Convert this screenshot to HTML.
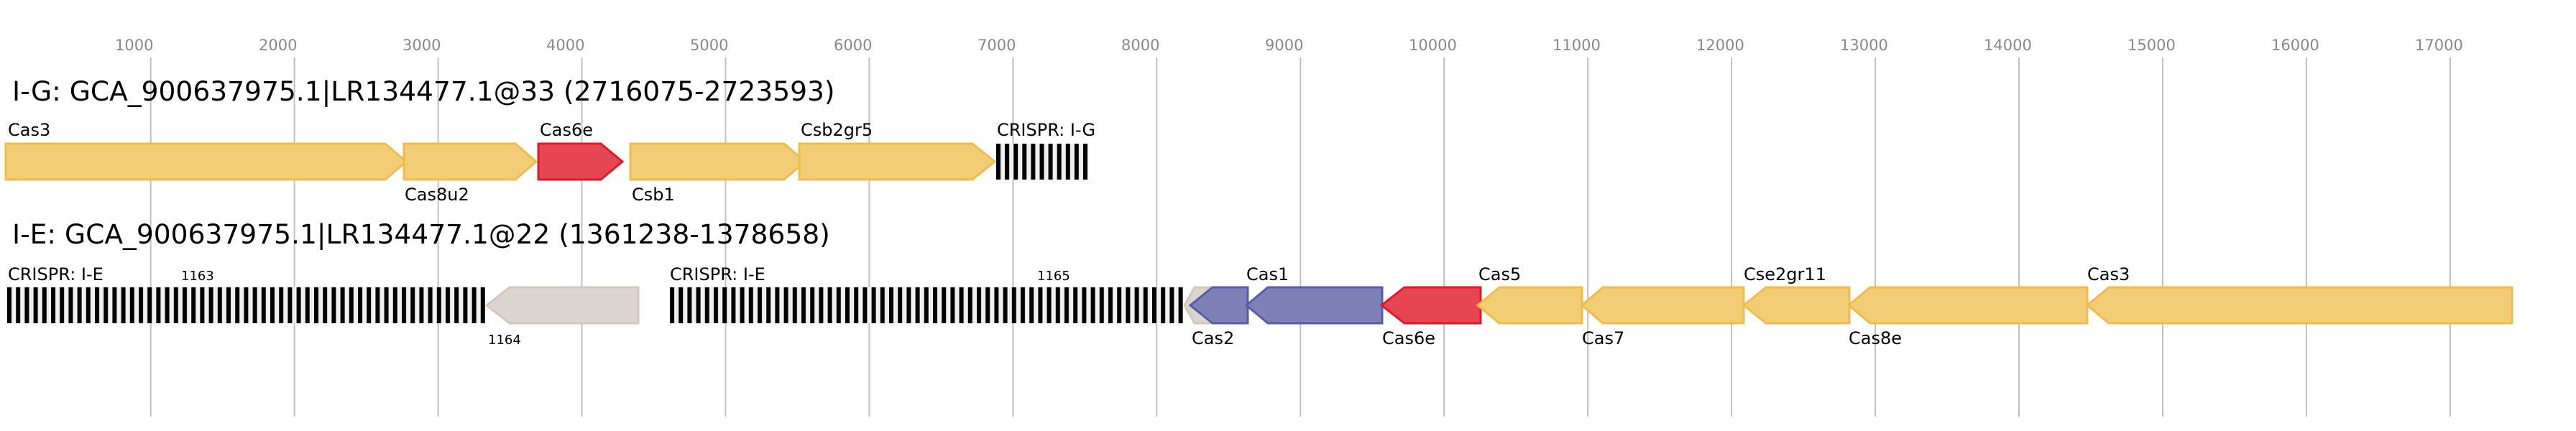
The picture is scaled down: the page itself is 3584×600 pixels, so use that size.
<!DOCTYPE html>
<html><head><meta charset="utf-8"><style>
html,body{margin:0;padding:0;background:#fff;}
svg{display:block;}
text{font-family:"DejaVu Sans","Liberation Sans",sans-serif;}
</style></head><body>
<svg width="3584" height="600" viewBox="0 0 3584 600" xmlns="http://www.w3.org/2000/svg">
<defs>
<pattern id="p1" patternUnits="userSpaceOnUse" x="10" y="0" width="12.2" height="600"><rect x="0" y="0" width="12.2" height="600" fill="#f0f0f0"/><rect x="0" y="0" width="6" height="600" fill="#000"/></pattern>
<pattern id="p2" patternUnits="userSpaceOnUse" x="932" y="0" width="12.2" height="600"><rect x="0" y="0" width="12.2" height="600" fill="#f0f0f0"/><rect x="0" y="0" width="6" height="600" fill="#000"/></pattern>
<pattern id="p3" patternUnits="userSpaceOnUse" x="1386" y="0" width="12.1" height="600"><rect x="0" y="0" width="12.1" height="600" fill="#f0f0f0"/><rect x="0" y="0" width="6" height="600" fill="#000"/></pattern>
</defs>
<g stroke="#c0c0c0" stroke-width="2">
<line x1="209.7" y1="80" x2="209.7" y2="580"/><line x1="409.6" y1="80" x2="409.6" y2="580"/><line x1="609.6" y1="80" x2="609.6" y2="580"/><line x1="809.5" y1="80" x2="809.5" y2="580"/><line x1="1009.5" y1="80" x2="1009.5" y2="580"/><line x1="1209.4" y1="80" x2="1209.4" y2="580"/><line x1="1409.4" y1="80" x2="1409.4" y2="580"/><line x1="1609.3" y1="80" x2="1609.3" y2="580"/><line x1="1809.3" y1="80" x2="1809.3" y2="580"/><line x1="2009.2" y1="80" x2="2009.2" y2="580"/><line x1="2209.2" y1="80" x2="2209.2" y2="580"/><line x1="2409.1" y1="80" x2="2409.1" y2="580"/><line x1="2609.1" y1="80" x2="2609.1" y2="580"/><line x1="2809" y1="80" x2="2809" y2="580"/><line x1="3009" y1="80" x2="3009" y2="580"/><line x1="3208.9" y1="80" x2="3208.9" y2="580"/><line x1="3408.9" y1="80" x2="3408.9" y2="580"/>
</g>
<g fill="#888" font-size="21">
<text x="160" y="70">1000</text><text x="360" y="70">2000</text><text x="560" y="70">3000</text><text x="760" y="70">4000</text><text x="960" y="70">5000</text><text x="1160" y="70">6000</text><text x="1360" y="70">7000</text><text x="1560" y="70">8000</text><text x="1760" y="70">9000</text><text x="1960" y="70">10000</text><text x="2160" y="70">11000</text><text x="2360" y="70">12000</text><text x="2560" y="70">13000</text><text x="2760" y="70">14000</text><text x="2960" y="70">15000</text><text x="3160" y="70">16000</text><text x="3360" y="70">17000</text>
</g>
<text x="17" y="140" font-size="37.6" fill="#000">I-G: GCA_900637975.1|LR134477.1@33 (2716075-2723593)</text>
<text x="17" y="339" font-size="37.6" fill="#000">I-E: GCA_900637975.1|LR134477.1@22 (1361238-1378658)</text>
<g stroke-width="3" stroke-linejoin="miter">
<g fill="#f2cd76" stroke="#eebc4b">
<polygon points="8,200 536,200 565,225 536,250 8,250"/>
<polygon points="562,200 717,200 746,225 717,250 562,250"/>
<polygon points="877,200 1091,200 1120,225 1091,250 877,250"/>
<polygon points="1112,200 1353,200 1384,225 1353,250 1112,250"/>
</g>
<polygon points="749,200 836,200 866,225 836,250 749,250" fill="#e64552" stroke="#e0182a"/>
<polygon points="677,425 709,400 888,400 888,450 709,450" fill="#dcd4ce" stroke="#d3c7bd"/>
<polygon points="1648,425 1662,400 1690,400 1690,450 1662,450" fill="#dcd4ce" stroke="#d3c7bd"/>
<g fill="#7e80b8" stroke="#585ca6">
<polygon points="1656,425 1687,400 1736,400 1736,450 1687,450"/>
<polygon points="1734,425 1764,400 1923,400 1923,450 1764,450"/>
</g>
<polygon points="1922,425 1954,400 2060,400 2060,450 1954,450" fill="#e64552" stroke="#e0182a"/>
<g fill="#f2cd76" stroke="#eebc4b">
<polygon points="2056,425 2086,400 2201,400 2201,450 2086,450"/>
<polygon points="2201,425 2230,400 2426,400 2426,450 2230,450"/>
<polygon points="2426,425 2457,400 2573,400 2573,450 2457,450"/>
<polygon points="2572,425 2602,400 2904,400 2904,450 2602,450"/>
<polygon points="2904,425 2934,400 3495,400 3495,450 2934,450"/>
</g>
</g>
<rect x="1386" y="200" width="128" height="50" fill="url(#p3)"/>
<rect x="10" y="400" width="665" height="50" fill="url(#p1)"/>
<rect x="932" y="400" width="714" height="50" fill="url(#p2)"/>
<g font-size="24" fill="#000">
<text x="11" y="189">Cas3</text>
<text x="751" y="189">Cas6e</text>
<text x="1114" y="189">Csb2gr5</text>
<text x="1387" y="189">CRISPR: I-G</text>
<text x="563" y="279">Cas8u2</text>
<text x="879" y="279">Csb1</text>
<text x="11" y="390">CRISPR: I-E</text>
<text x="932" y="390">CRISPR: I-E</text>
<text x="1734" y="390">Cas1</text>
<text x="2057" y="390">Cas5</text>
<text x="2426" y="390">Cse2gr11</text>
<text x="2904" y="390">Cas3</text>
<text x="1658" y="479">Cas2</text>
<text x="1923" y="479">Cas6e</text>
<text x="2201" y="479">Cas7</text>
<text x="2572" y="479">Cas8e</text>
</g>
<g font-size="18" fill="#000">
<text x="252" y="390">1163</text>
<text x="1443" y="390">1165</text>
<text x="679" y="479">1164</text>
</g>
</svg>
</body></html>
